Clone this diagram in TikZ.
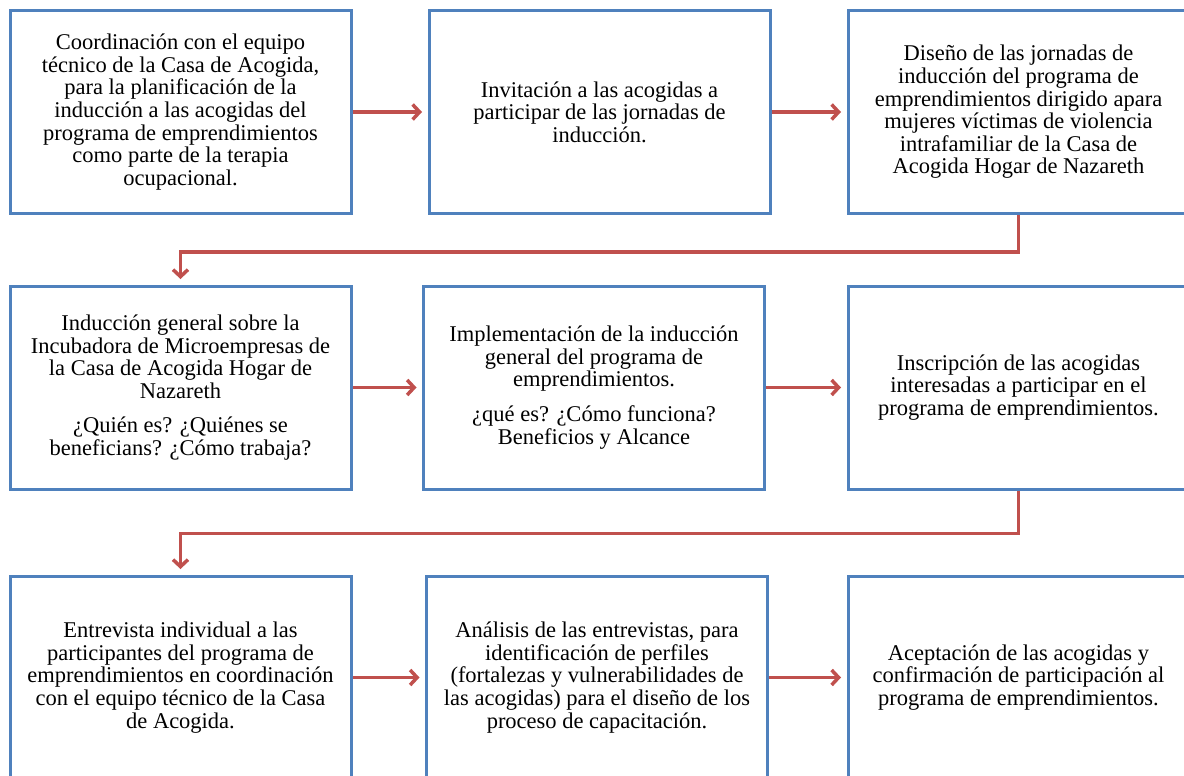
\documentclass[tikz,border=0pt]{standalone}
\usepackage{fontspec}
\setmainfont{Liberation Serif}
\usepackage{xcolor}
\usepackage{tikz}
\usetikzlibrary{arrows.meta, positioning}
\definecolor{boxblue}{RGB}{79,129,189}
\definecolor{flowred}{RGB}{192,80,77}
\newcommand{\stepfont}{\fontsize{22.5}{22.6}\selectfont}

\begin{document}
\begin{tikzpicture}[x=1pt,y=-1pt,
	stepbox/.style={draw=boxblue, line width=3pt, minimum width=341pt, minimum height=203pt, inner sep=0pt, align=center, font=\stepfont},
	flow/.style={draw=flowred, line width=3.5pt, -{Straight Barb[length=7pt,width=15pt]}, shorten >=5.5pt}]
			% Picture's rows and columns
			\def\rowOne{112}
			\def\rowTwo{387.5}
			\def\rowThree{677.5}
			\def\colOne{180.5}
			\def\colThree{1018.5}
			
			% PAGE
			\useasboundingbox (0,0) rectangle (1184,776);
			\clip (0,0) rectangle (1184,776);
			
			% ROW 1
			\node[stepbox] (coord) at (\colOne,\rowOne) {Coordinación con el equipo\\ técnico de la Casa de Acogida,\\ para la planificación de la\\ inducción a las acogidas del\\ programa de emprendimientos\\ como parte de la terapia\\ ocupacional.};
			\node[stepbox] (invit) at (599.5,\rowOne) {Invitación a las acogidas a\\ participar de las jornadas de\\ inducción.};
			\node[stepbox] (disen) at (\colThree,\rowOne) {Diseño de las jornadas de\\ inducción del programa de\\ emprendimientos dirigido apara\\ mujeres víctimas de violencia\\ intrafamiliar de la Casa de\\ Acogida Hogar de Nazareth};
			
			% ROW 2
			\node[stepbox] (induc) at (\colOne,\rowTwo) {Inducción general sobre la\\ Incubadora de Microempresas de\\ la Casa de Acogida Hogar de\\ Nazareth\\[12pt] ¿Quién es? ¿Quiénes se\\ beneficians? ¿Cómo trabaja?};
			\node[stepbox] (imple) at (594,\rowTwo) {Implementación de la inducción\\ general del programa de\\ emprendimientos.\\[12pt] ¿qué es? ¿Cómo funciona?\\ Beneficios y Alcance};
			\node[stepbox] (inscr) at (\colThree,\rowTwo) {Inscripción de las acogidas\\ interesadas a participar en el\\ programa de emprendimientos.};
			
			% ROW 3
			\node[stepbox] (entre) at (\colOne,\rowThree) {Entrevista individual a las\\ participantes del programa de\\ emprendimientos en coordinación\\ con el equipo técnico de la Casa\\ de Acogida.};
			\node[stepbox] (anali) at (597,\rowThree) {Análisis de las entrevistas, para\\ identificación de perfiles\\ (fortalezas y vulnerabilidades de\\ las acogidas) para el diseño de los\\ proceso de capacitación.};
			\node[stepbox] (acept) at (\colThree,\rowThree) {Aceptación de las acogidas y\\ confirmación de participación al\\ programa de emprendimientos.};
			
			% FLOW ARROWS
			\draw[flow] (coord) -- (invit);
			\draw[flow] (invit) -- (disen);
			\draw[flow] (disen.south) -- ++(0,37) -| (induc.north);
			\draw[flow] (induc) -- (imple);
			\draw[flow] (imple) -- (inscr);
			\draw[flow] (inscr.south) -- ++(0,43) -| (entre.north);
			\draw[flow] (entre) -- (anali);
			\draw[flow] (anali) -- (acept);
\end{tikzpicture}
\end{document}
